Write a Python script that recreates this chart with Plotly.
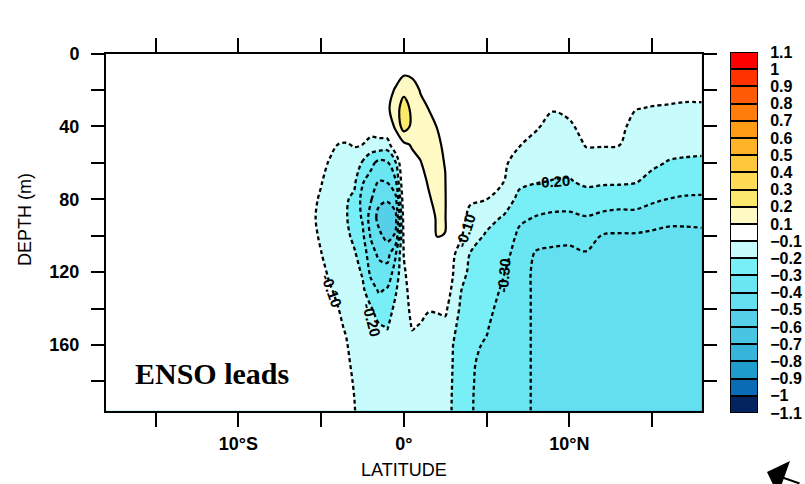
import plotly.graph_objects as go

# ---------------- data ----------------
latitudes = [-18, -6, -5.5, -5, -4.5, -4, -3.5, -3, -2.5, -2, -1.5, -1, -0.5,
             0, 0.5, 1, 1.5, 2, 2.5, 3, 3.5, 4, 5, 6, 7, 8, 9, 10, 11, 12, 13,
             14, 15, 16, 17, 18]
depths = [0, 10, 20, 30, 40, 50, 60, 70, 80, 90, 100, 110, 120, 130, 140, 150,
          160, 170, 180, 190, 200]

# one depth profile (0..200 m) per latitude
anomaly_by_lat = [
    [0.0, 0.0, 0.0, 0.0, 0.0, 0.0, 0.0, 0.0, 0.0, 0.0, 0.0, 0.0, 0.0, 0.0, 0.0, 0.0, 0.0, 0.0, 0.0, 0.0, 0.0],  # -18
    [0.0, -0.005, -0.01, -0.015, -0.02, -0.03, -0.04, -0.05, -0.055, -0.06, -0.055, -0.05, -0.045, -0.04, -0.035, -0.03, -0.03, -0.025, -0.02, -0.02, -0.02],  # -6
    [0.0, -0.01, -0.015, -0.02, -0.03, -0.045, -0.06, -0.075, -0.085, -0.09, -0.085, -0.075, -0.065, -0.055, -0.05, -0.045, -0.04, -0.035, -0.03, -0.03, -0.03],  # -5.5
    [0.0, -0.01, -0.015, -0.025, -0.04, -0.06, -0.08, -0.095, -0.11, -0.12, -0.11, -0.098, -0.085, -0.075, -0.07, -0.06, -0.055, -0.05, -0.045, -0.04, -0.04],  # -5
    [0.0, -0.01, -0.02, -0.03, -0.05, -0.08, -0.105, -0.125, -0.14, -0.15, -0.14, -0.125, -0.108, -0.094, -0.085, -0.075, -0.07, -0.065, -0.06, -0.055, -0.05],  # -4.5
    [0.0, -0.01, -0.02, -0.03, -0.06, -0.1, -0.13, -0.15, -0.165, -0.17, -0.16, -0.14, -0.125, -0.11, -0.098, -0.09, -0.08, -0.075, -0.07, -0.065, -0.06],  # -4
    [0.0, -0.01, -0.02, -0.03, -0.055, -0.105, -0.14, -0.17, -0.19, -0.19, -0.18, -0.16, -0.14, -0.125, -0.115, -0.105, -0.095, -0.085, -0.08, -0.075, -0.07],  # -3.5
    [0.0, -0.01, -0.02, -0.03, -0.05, -0.095, -0.13, -0.18, -0.22, -0.25, -0.22, -0.19, -0.165, -0.15, -0.14, -0.13, -0.12, -0.115, -0.105, -0.099, -0.095],  # -3
    [0.0, -0.01, -0.015, -0.02, -0.04, -0.1, -0.21, -0.29, -0.33, -0.31, -0.28, -0.24, -0.21, -0.18, -0.16, -0.15, -0.14, -0.14, -0.135, -0.13, -0.13],  # -2.5
    [0.0, 0.0, -0.01, -0.02, -0.045, -0.14, -0.27, -0.34, -0.39, -0.44, -0.41, -0.36, -0.32, -0.26, -0.19, -0.16, -0.15, -0.15, -0.145, -0.145, -0.14],  # -2
    [0.0, 0.0, 0.0, 0.0, -0.045, -0.13, -0.33, -0.4, -0.48, -0.53, -0.48, -0.42, -0.36, -0.31, -0.25, -0.19, -0.17, -0.16, -0.155, -0.15, -0.15],  # -1.5
    [0.0, 0.02, 0.06, 0.08, 0.0, -0.15, -0.31, -0.39, -0.49, -0.56, -0.53, -0.44, -0.36, -0.29, -0.24, -0.205, -0.17, -0.16, -0.155, -0.15, -0.15],  # -1
    [0.01, 0.05, 0.11, 0.155, 0.125, 0.0, -0.21, -0.31, -0.43, -0.53, -0.49, -0.31, -0.26, -0.21, -0.18, -0.16, -0.15, -0.15, -0.15, -0.15, -0.15],  # -0.5
    [0.03, 0.08, 0.17, 0.25, 0.245, 0.08, 0.04, 0.01, -0.02, -0.05, -0.075, -0.095, -0.115, -0.13, -0.14, -0.145, -0.15, -0.15, -0.15, -0.15, -0.15],  # 0
    [0.03, 0.08, 0.135, 0.175, 0.18, 0.11, 0.07, 0.045, 0.025, 0.005, -0.01, -0.025, -0.04, -0.06, -0.075, -0.095, -0.12, -0.13, -0.14, -0.145, -0.15],  # 0.5
    [0.02, 0.06, 0.095, 0.12, 0.14, 0.13, 0.095, 0.07, 0.045, 0.02, 0.0, -0.02, -0.04, -0.06, -0.08, -0.105, -0.12, -0.13, -0.135, -0.14, -0.14],  # 1
    [0.01, 0.04, 0.07, 0.098, 0.125, 0.14, 0.135, 0.11, 0.09, 0.06, 0.03, 0.0, -0.03, -0.06, -0.095, -0.12, -0.13, -0.14, -0.14, -0.145, -0.145],  # 1.5
    [0.0, 0.02, 0.04, 0.07, 0.098, 0.12, 0.13, 0.13, 0.125, 0.11, 0.103, 0.07, 0.02, -0.03, -0.09, -0.13, -0.14, -0.145, -0.15, -0.15, -0.155],  # 2
    [0.0, 0.01, 0.02, 0.04, 0.06, 0.08, 0.095, 0.105, 0.11, 0.108, 0.098, 0.05, 0.006, -0.038, -0.082, -0.125, -0.14, -0.15, -0.16, -0.165, -0.17],  # 2.5
    [-0.02, -0.027, -0.033, -0.04, -0.047, -0.054, -0.06, -0.067, -0.074, -0.08, -0.087, -0.094, -0.103, -0.129, -0.156, -0.183, -0.203, -0.206, -0.208, -0.21, -0.21],  # 3
    [-0.02, -0.028, -0.035, -0.043, -0.051, -0.058, -0.066, -0.074, -0.082, -0.089, -0.097, -0.125, -0.167, -0.203, -0.22, -0.235, -0.245, -0.25, -0.25, -0.25, -0.25],  # 3.5
    [-0.02, -0.03, -0.04, -0.05, -0.06, -0.07, -0.075, -0.085, -0.095, -0.11, -0.16, -0.202, -0.22, -0.24, -0.26, -0.27, -0.29, -0.295, -0.295, -0.295, -0.295],  # 4
    [-0.02, -0.03, -0.04, -0.05, -0.06, -0.07, -0.08, -0.09, -0.099, -0.17, -0.21, -0.23, -0.24, -0.26, -0.28, -0.295, -0.305, -0.31, -0.315, -0.32, -0.32],  # 5
    [-0.02, -0.03, -0.04, -0.05, -0.06, -0.07, -0.085, -0.095, -0.143, -0.206, -0.235, -0.265, -0.294, -0.312, -0.325, -0.33, -0.33, -0.33, -0.33, -0.33, -0.33],  # 6
    [-0.02, -0.035, -0.051, -0.066, -0.082, -0.097, -0.135, -0.178, -0.227, -0.281, -0.322, -0.345, -0.35, -0.35, -0.35, -0.35, -0.35, -0.35, -0.35, -0.35, -0.35],  # 7
    [-0.02, -0.038, -0.056, -0.075, -0.093, -0.121, -0.157, -0.193, -0.247, -0.305, -0.358, -0.41, -0.425, -0.425, -0.425, -0.425, -0.425, -0.425, -0.425, -0.425, -0.425],  # 8
    [-0.02, -0.045, -0.07, -0.095, -0.121, -0.147, -0.174, -0.202, -0.259, -0.317, -0.372, -0.417, -0.45, -0.45, -0.45, -0.45, -0.45, -0.45, -0.45, -0.45, -0.45],  # 9
    [-0.02, -0.042, -0.063, -0.085, -0.109, -0.141, -0.172, -0.206, -0.261, -0.318, -0.376, -0.42, -0.45, -0.45, -0.45, -0.45, -0.45, -0.45, -0.45, -0.45, -0.45],  # 10
    [-0.02, -0.035, -0.05, -0.065, -0.08, -0.095, -0.133, -0.181, -0.24, -0.305, -0.358, -0.407, -0.44, -0.45, -0.45, -0.45, -0.45, -0.45, -0.45, -0.45, -0.45],  # 11
    [-0.02, -0.035, -0.05, -0.065, -0.08, -0.095, -0.135, -0.185, -0.25, -0.323, -0.405, -0.433, -0.45, -0.45, -0.45, -0.45, -0.45, -0.45, -0.45, -0.45, -0.45],  # 12
    [-0.02, -0.035, -0.051, -0.066, -0.082, -0.097, -0.138, -0.186, -0.254, -0.336, -0.41, -0.443, -0.45, -0.45, -0.45, -0.45, -0.45, -0.45, -0.45, -0.45, -0.45],  # 13
    [-0.02, -0.046, -0.072, -0.097, -0.121, -0.145, -0.174, -0.193, -0.254, -0.336, -0.41, -0.443, -0.45, -0.45, -0.45, -0.45, -0.45, -0.45, -0.45, -0.45, -0.45],  # 14
    [-0.02, -0.048, -0.075, -0.103, -0.13, -0.157, -0.184, -0.224, -0.282, -0.358, -0.417, -0.45, -0.45, -0.45, -0.45, -0.45, -0.45, -0.45, -0.45, -0.45, -0.45],  # 15
    [-0.02, -0.049, -0.077, -0.106, -0.139, -0.171, -0.205, -0.252, -0.302, -0.377, -0.423, -0.45, -0.45, -0.45, -0.45, -0.45, -0.45, -0.45, -0.45, -0.45, -0.45],  # 16
    [-0.02, -0.05, -0.08, -0.11, -0.143, -0.177, -0.21, -0.258, -0.31, -0.38, -0.42, -0.45, -0.45, -0.45, -0.45, -0.45, -0.45, -0.45, -0.45, -0.45, -0.45],  # 17
    [-0.02, -0.05, -0.079, -0.11, -0.143, -0.177, -0.214, -0.262, -0.312, -0.375, -0.419, -0.45, -0.45, -0.45, -0.45, -0.45, -0.45, -0.45, -0.45, -0.45, -0.45],  # 18
]

# contour levels / colour bands (-1.1 .. 1.1 by 0.1)
level_start, level_end, level_step = -1.1, 1.1, 0.1
band_edges = [-1.1, -1.0, -0.9, -0.8, -0.7, -0.6, -0.5, -0.4, -0.3, -0.2, -0.1,
              0.0, 0.1, 0.2, 0.3, 0.4, 0.5, 0.6, 0.7, 0.8, 0.9, 1.0, 1.1]
band_colors = ['#03245e', '#0a6cb4', '#1e9ccc', '#36b4da', '#47c5e2', '#55d0e8',
               '#63dfef', '#6ae6f2', '#78eff6', '#c8fbfb', '#ffffff',
               '#ffffff', '#fff9c4', '#fbe96e', '#ffdb55', '#ffc83c', '#ffb428',
               '#ff9b14', '#ff7d0a', '#ff5a05', '#ff3200', '#ff0000']

# colour-bar boxes (one box for the white band -0.1..0.1)
cbar_box_values = [-1.05, -0.95, -0.85, -0.75, -0.65, -0.55, -0.45, -0.35, -0.25,
                   -0.15, 0.0, 0.15, 0.25, 0.35, 0.45, 0.55, 0.65, 0.75, 0.85,
                   0.95, 1.05]
cbar_labels = ['\u22121.1', '\u22121', '\u22120.9', '\u22120.8', '\u22120.7',
               '\u22120.6', '\u22120.5', '\u22120.4', '\u22120.3', '\u22120.2',
               '\u22120.1', '0.1', '0.2', '0.3', '0.4', '0.5', '0.6', '0.7',
               '0.8', '0.9', '1', '1.1']

lat_tickvals = [-15, -10, -5, 0, 5, 10, 15]
lat_ticktext = ['', '10\u00b0S', '', '0\u00b0', '', '10\u00b0N', '']
depth_tickvals = [0, 20, 40, 60, 80, 100, 120, 140, 160, 180]
depth_ticktext = ['0', '', '40', '', '80', '', '120', '', '160', '']

# label text, lat, depth, angle
contour_labels = [('-0.10', -4.35, 130, 70), ('-0.20', -1.95, 146, 75),
                  ('-0.10', 3.72, 97, -72), ('-0.20', 9.0, 70.5, -4),
                  ('-0.30', 6.05, 122, -85)]

# ---------------- build ----------------
z = [list(r) for r in zip(*anomaly_by_lat)]

lo = level_start - level_step / 2
span = (level_end - level_start) + level_step


def frac(v):
    return min(1.0, max(0.0, (v - lo) / span))


colorscale = []
for i, col in enumerate(band_colors):
    a = 0.0 if i == 0 else frac(band_edges[i])
    b = 1.0 if i == len(band_colors) - 1 else frac(band_edges[i + 1])
    colorscale.append([a, col])
    colorscale.append([b, col])

fig = go.Figure()

fig.add_trace(go.Contour(
    x=latitudes, y=depths, z=z, autocontour=False,
    contours=dict(start=level_start, end=level_end, size=level_step,
                  coloring='fill', showlines=False),
    colorscale=colorscale, line=dict(width=0, smoothing=1),
    showscale=False, hoverinfo='skip'))

fig.add_trace(go.Contour(
    x=latitudes, y=depths, z=z, autocontour=False,
    contours=dict(start=level_start, end=-0.1, size=level_step,
                  coloring='none', showlines=True),
    line=dict(color='black', width=2.3, dash='4px,3px', smoothing=1),
    showscale=False, hoverinfo='skip'))

fig.add_trace(go.Contour(
    x=latitudes, y=depths, z=z, autocontour=False,
    contours=dict(start=0.1, end=level_end, size=level_step,
                  coloring='none', showlines=True),
    line=dict(color='black', width=2.2, smoothing=1),
    showscale=False, hoverinfo='skip'))

# colour bar drawn as a one-column heatmap
fig.add_trace(go.Heatmap(
    x=[0], y=list(range(len(cbar_box_values) + 1)),
    z=[[v] for v in cbar_box_values],
    colorscale=colorscale, zmin=lo, zmax=lo + span, showscale=False,
    xgap=2, ygap=2, hoverinfo='skip', xaxis='x2', yaxis='y2'))

W, H = 805, 484
ml, mr, mt, mb = 106, 47, 52, 71
pw, ph = W - ml - mr, H - mt - mb


def px(xp):
    return (xp - ml) / pw


def py(yp):
    return (H - mb - yp) / ph


tickfont = dict(family='Liberation Sans', size=18, color='black', weight='bold')
axis_common = dict(ticks='outside', tickwidth=2, tickcolor='black', showline=True,
                   linewidth=2, linecolor='black', mirror='ticks', showgrid=False,
                   zeroline=False, tickfont=tickfont, automargin=False)

annotations = [
    dict(text='LATITUDE', x=0, xref='x', y=py(470), yref='paper', showarrow=False,
         font=dict(family='Liberation Sans', size=18, color='black'),
         xanchor='center', yanchor='middle'),
    dict(text='DEPTH (m)', x=px(25), xref='paper', y=py(220), yref='paper',
         showarrow=False, textangle=-90,
         font=dict(family='Liberation Sans', size=18, color='black'),
         xanchor='center', yanchor='middle'),
    dict(text='ENSO leads', x=px(212), xref='paper', y=py(373), yref='paper',
         showarrow=False,
         font=dict(family='Liberation Serif', size=30, color='black', weight='bold'),
         xanchor='center', yanchor='middle'),
    dict(text='', x=px(767), xref='paper', y=py(472), yref='paper', showarrow=True,
         ax=34, ay=24, arrowhead=1, arrowsize=3, arrowwidth=2,
         arrowcolor='black'),
]
for txt, la, de, ang in contour_labels:
    annotations.append(dict(text=txt, x=la, y=de, xref='x', yref='y',
                            showarrow=False, textangle=ang,
                            font=dict(family='Liberation Sans', size=15,
                                      color='black', weight='bold')))

fig.update_layout(
    width=W, height=H, margin=dict(l=ml, r=mr, t=mt, b=mb, pad=0, autoexpand=False),
    paper_bgcolor='white', plot_bgcolor='white', showlegend=False,
    xaxis=dict(domain=[0, px(701.7)], range=[-18, 18], tickvals=lat_tickvals,
               ticktext=lat_ticktext, ticklen=14, ticklabelstandoff=2,
               **axis_common),
    yaxis=dict(domain=[py(410.5), py(53.5)], range=[196, 0], autorange=False,
               tickvals=depth_tickvals, ticktext=depth_ticktext, ticklen=13,
               ticklabelstandoff=8, **axis_common),
    xaxis2=dict(domain=[px(730), 1.0], anchor='y2', range=[-0.5, 0.5],
                visible=False, fixedrange=True, automargin=False),
    yaxis2=dict(domain=[0, 1], anchor='x2', range=[0, len(cbar_box_values)],
                side='right', tickvals=list(range(len(cbar_labels))),
                ticktext=cbar_labels, ticks='outside', ticklen=8,
                tickcolor='rgba(0,0,0,0)', showline=False, showgrid=False,
                zeroline=False, automargin=False,
                tickfont=dict(family='Liberation Sans', size=16, color='black',
                              weight='bold')),
    shapes=[dict(type='rect', xref='x2', yref='y2', x0=-0.5, x1=0.5, y0=0,
                 y1=len(cbar_box_values), fillcolor='black',
                 line=dict(color='black', width=1), layer='below')],
    annotations=annotations,
)

fig.write_html('out.html')
